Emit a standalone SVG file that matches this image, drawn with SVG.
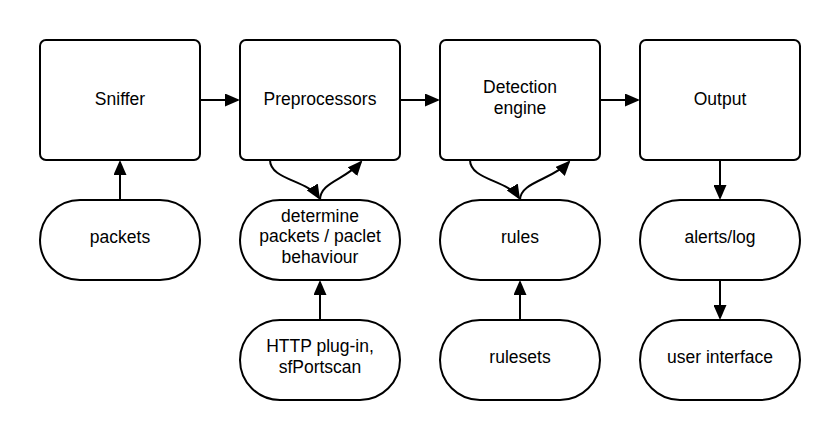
<svg xmlns="http://www.w3.org/2000/svg" width="840" height="440" viewBox="0 0 840 440">
<style>
.box{fill:#fff;stroke:#000;stroke-width:2}
.t{font-family:"Liberation Sans",Arial,sans-serif;font-size:17.5px;fill:#000;text-anchor:middle}
.c{fill:none;stroke:#000;stroke-width:2}
</style>
<defs>
<marker id="ah" markerUnits="userSpaceOnUse" markerWidth="16" markerHeight="13" viewBox="0 0 16 13" refX="13" refY="6.5" orient="auto">
<path d="M0,0 L15,6.5 L0,13 z" fill="#000"/>
</marker>
</defs>
<rect width="840" height="440" fill="#fff"/>
<g id="sniffer"><rect class="box" x="40" y="40" width="160" height="120" rx="6"/><text class="t" x="120" y="104.5">Sniffer</text></g>
<g id="preprocessors"><rect class="box" x="240" y="40" width="160" height="120" rx="6"/><text class="t" x="320" y="104.5">Preprocessors</text></g>
<g id="detection"><rect class="box" x="440" y="40" width="160" height="120" rx="6"/><text class="t" x="520" y="92.5">Detection</text><text class="t" x="520" y="113.5">engine</text></g>
<g id="output"><rect class="box" x="640" y="40" width="160" height="120" rx="6"/><text class="t" x="720" y="104.5">Output</text></g>
<g id="packets"><rect class="box" x="40" y="200" width="160" height="80" rx="40"/><text class="t" x="120" y="243">packets</text></g>
<g id="determine"><rect class="box" x="240" y="200" width="160" height="80" rx="40"/><text class="t" x="320" y="222">determine</text><text class="t" x="320" y="242">packets / paclet</text><text class="t" x="320" y="263">behaviour</text></g>
<g id="rules"><rect class="box" x="440" y="200" width="160" height="80" rx="40"/><text class="t" x="520" y="243">rules</text></g>
<g id="alerts"><rect class="box" x="640" y="200" width="160" height="80" rx="40"/><text class="t" x="720" y="243">alerts/log</text></g>
<g id="http"><rect class="box" x="240" y="320" width="160" height="80" rx="40"/><text class="t" x="320" y="352">HTTP plug-in,</text><text class="t" x="320" y="373">sfPortscan</text></g>
<g id="rulesets"><rect class="box" x="440" y="320" width="160" height="80" rx="40"/><text class="t" x="520" y="363">rulesets</text></g>
<g id="ui"><rect class="box" x="640" y="320" width="160" height="80" rx="40"/><text class="t" x="720" y="363">user interface</text></g>
<g id="connectors">
<path class="c" marker-end="url(#ah)" d="M120,200 L120,162"/>
<path class="c" marker-end="url(#ah)" d="M200,100 L238,100"/>
<path class="c" marker-end="url(#ah)" d="M400,100 L438,100"/>
<path class="c" marker-end="url(#ah)" d="M600,100 L638,100"/>
<path class="c" marker-end="url(#ah)" d="M720,160 L720,198"/>
<path class="c" marker-end="url(#ah)" d="M720,280 L720,318"/>
<path class="c" marker-end="url(#ah)" d="M320,320 L320,282"/>
<path class="c" marker-end="url(#ah)" d="M520,320 L520,282"/>
<path class="c" marker-end="url(#ah)" d="M270,160 C270,180 308,180 319,198"/>
<path class="c" marker-end="url(#ah)" d="M320,200 C320,182 345,180 361,162"/>
<path class="c" marker-end="url(#ah)" d="M470,160 C470,180 508,180 519,198"/>
<path class="c" marker-end="url(#ah)" d="M520,200 C520,182 552,180 569,162"/>
</g>
</svg>
